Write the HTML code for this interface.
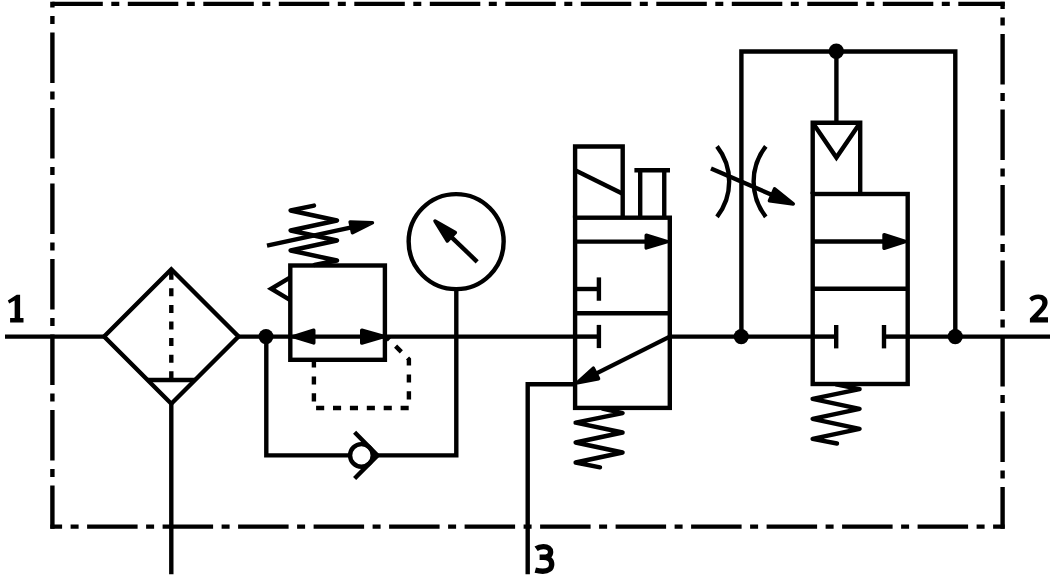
<!DOCTYPE html>
<html><head><meta charset="utf-8"><title>Pneumatic schematic</title>
<style>
html,body{margin:0;padding:0;background:#fff;}
body{width:1056px;height:587px;overflow:hidden;font-family:"Liberation Sans",sans-serif;}
svg{display:block;}
</style></head>
<body>
<svg width="1056" height="587" viewBox="0 0 1056 587">
<rect x="0" y="0" width="1056" height="587" fill="#fff"/>
<g fill="none" stroke="#000" stroke-width="4.4" stroke-linecap="butt" stroke-linejoin="miter">
<line x1="50.35" y1="3.9" x2="1004.65" y2="3.9" stroke-dasharray="50.5 8.5 8 8.5" stroke-dashoffset="73.55"/>
<line x1="50.35" y1="526.6" x2="1004.65" y2="526.6" stroke-dasharray="50.5 8.5 8 8.5" stroke-dashoffset="38.75"/>
<line x1="52.4" y1="1.85" x2="52.4" y2="528.65" stroke-dasharray="50.5 8.5 8 8.5" stroke-dashoffset="44.85"/>
<line x1="1002.6" y1="1.85" x2="1002.6" y2="528.65" stroke-dasharray="50.5 8.5 8 8.5" stroke-dashoffset="43.35"/>
<line x1="5" y1="336.6" x2="104.3" y2="336.6"/>
<line x1="238.3" y1="336.6" x2="290.3" y2="336.6"/>
<line x1="291" y1="336.6" x2="386" y2="336.6"/>
<line x1="384.9" y1="336.6" x2="575.1" y2="336.6"/>
<line x1="575.1" y1="336.6" x2="598.9" y2="336.6"/>
<line x1="669.8" y1="336.6" x2="812.7" y2="336.6"/>
<line x1="812.7" y1="336.6" x2="836.2" y2="336.6"/>
<line x1="884" y1="336.6" x2="907.7" y2="336.6"/>
<line x1="907.7" y1="336.6" x2="1050" y2="336.6"/>
<polygon points="104.10,336.50 171.30,269.30 238.50,336.50 171.30,403.70" stroke-linejoin="miter"/>
<line x1="171.3" y1="269.3" x2="171.3" y2="380" stroke-dasharray="8 8.6" stroke-dashoffset="-2.4"/>
<line x1="147.60000000000002" y1="380" x2="195.0" y2="380"/>
<line x1="171.3" y1="403.7" x2="171.3" y2="574.2"/>
<circle cx="266" cy="336.6" r="7.5" fill="#000" stroke="none"/>
<polyline points="266.30,336.60 266.30,455.40 350.00,455.40"/>
<circle cx="361.4" cy="455.4" r="11.3" fill="none"/>
<polyline points="354.60,432.30 377.50,455.40 354.60,478.50" stroke-linejoin="miter"/>
<polyline points="377.50,455.40 456.30,455.40 456.30,336.60"/>
<rect x="290.3" y="265.5" width="94.6" height="94.3" fill="none"/>
<polygon points="293.16,336.60 313.70,330.30 313.70,342.90" fill="#000" stroke="#000" stroke-width="3.6" stroke-linejoin="round"/>
<polygon points="383.84,336.60 361.80,342.90 361.80,330.30" fill="#000" stroke="#000" stroke-width="3.6" stroke-linejoin="round"/>
<polyline points="290.30,277.30 271.20,288.75 290.30,300.20" stroke-linejoin="miter"/>
<polyline points="314.00,205.60 290.60,210.50 337.00,220.50 290.60,230.50 337.00,240.50 290.60,250.50 337.00,260.50 314.50,264.90" stroke-linejoin="round" stroke-linecap="round"/>
<line x1="267" y1="245.7" x2="355" y2="226.6"/>
<polygon points="372.39,222.76 352.51,232.71 350.17,221.97" fill="#000" stroke="#000" stroke-width="3.6" stroke-linejoin="round"/>
<polyline points="386.3,336.8 408.9,359.4 408.9,408 313.9,408 313.9,359.8" stroke-dasharray="8.1 8.8" stroke-dashoffset="3.74"/>
<circle cx="456.15" cy="241.6" r="47.5" fill="none" stroke-width="4.4"/>
<line x1="456.3" y1="288.2" x2="456.3" y2="336.6"/>
<line x1="477.2" y1="261.8" x2="447" y2="232.8"/>
<polygon points="435.05,221.10 455.30,232.59 447.24,240.93" fill="#000" stroke="#000" stroke-width="3.6" stroke-linejoin="round"/>
<rect x="575.1" y="217.7" width="94.70" height="190.20" fill="none"/>
<line x1="575.1" y1="313.2" x2="669.8" y2="313.2"/>
<polyline points="575.10,217.70 575.10,146.50 622.70,146.50 622.70,217.70"/>
<line x1="575.1" y1="170.3" x2="622.7" y2="193.8"/>
<line x1="634.4" y1="170.2" x2="670" y2="170.2"/>
<line x1="640.2" y1="170.2" x2="640.2" y2="217.7"/>
<line x1="664.25" y1="170.2" x2="664.25" y2="217.7"/>
<line x1="575.1" y1="241.6" x2="650" y2="241.6"/>
<polygon points="667.34,241.60 646.30,247.90 646.30,235.30" fill="#000" stroke="#000" stroke-width="3.6" stroke-linejoin="round"/>
<line x1="575.1" y1="289" x2="598.9" y2="289"/>
<line x1="598.9" y1="277.4" x2="598.9" y2="300.75"/>
<line x1="598.9" y1="324.9" x2="598.9" y2="348.1"/>
<line x1="669.8" y1="336.6" x2="592" y2="375.6"/>
<polygon points="577.53,382.64 593.32,368.28 598.50,378.66" fill="#000" stroke="#000" stroke-width="3.6" stroke-linejoin="round"/>
<polyline points="575.10,384.20 527.70,384.20 527.70,574.20"/>
<polyline points="602.50,408.50 622.60,413.10 575.60,422.70 622.60,432.50 575.60,442.50 622.60,452.50 575.60,462.50 600.00,467.30" stroke-linejoin="round" stroke-linecap="round"/>
<rect x="812.7" y="194.0" width="95.00" height="190.00" fill="none"/>
<line x1="812.7" y1="288.8" x2="907.7" y2="288.8"/>
<polyline points="812.70,194.00 812.70,122.70 860.20,122.70 860.20,194.00"/>
<polyline points="812.70,122.70 836.40,157.60 860.20,122.70" stroke-linejoin="miter"/>
<line x1="836.4" y1="51.3" x2="836.4" y2="122.7"/>
<circle cx="836.3" cy="51.3" r="7.7" fill="#000" stroke="none"/>
<polyline points="741.40,336.60 741.40,51.50 955.30,51.50 955.30,336.60"/>
<circle cx="741.25" cy="336.6" r="7.6" fill="#000" stroke="none"/>
<circle cx="955.25" cy="336.6" r="7.6" fill="#000" stroke="none"/>
<line x1="812.7" y1="241.5" x2="890" y2="241.5"/>
<polygon points="905.14,241.50 884.10,248.20 884.10,234.80" fill="#000" stroke="#000" stroke-width="3.6" stroke-linejoin="round"/>
<line x1="836.2" y1="325" x2="836.2" y2="348.4"/>
<line x1="884" y1="325" x2="884" y2="348.4"/>
<polyline points="836.00,384.30 859.60,389.10 812.60,398.80 859.60,408.80 812.60,418.80 859.60,428.80 812.60,438.80 837.00,443.50" stroke-linejoin="round" stroke-linecap="round"/>
<path d="M717.0,146.3 A57.1,57.1 0 0 1 717.0,216.8" fill="none"/>
<path d="M765.8,146.3 A57.1,57.1 0 0 0 765.8,216.8" fill="none"/>
<line x1="711" y1="168.6" x2="778" y2="197.4"/>
<polygon points="793.22,203.95 769.48,200.82 774.62,188.88" fill="#000" stroke="#000" stroke-width="3.6" stroke-linejoin="round"/>
<path d="M16.7,294.8 L20.1,294.8 L20.1,318 L23.5,318 L23.5,322.4 L10.1,322.4 L10.1,318 L14.65,318 L14.65,300.6 L9.2,303.5 L7.8,300.4 Z" fill="#000" stroke="none"/>
<path d="M1029.2,298.2 C1031.5,295.8 1034.8,294.5 1038.4,294.5 C1044,294.5 1047.6,297.6 1047.6,302.3 C1047.6,306.3 1045.3,309.6 1040.2,314.6 L1037.9,317.2 L1048,317.2 L1048,322.4 L1029.9,322.4 L1029.9,318.4 L1037.6,310.6 C1041.2,307 1042.3,305 1042.3,302.6 C1042.3,300.2 1040.6,298.9 1038,298.9 C1035.4,298.9 1033.6,299.9 1031.9,301.6 Z" fill="#000" stroke="none"/>
<path d="M536.1,548.8 C538.3,547.2 540.8,546.6 543.4,546.6 C547.9,546.6 550.6,548.8 550.6,552 C550.6,555.4 547.8,557.3 543.5,557.3 L539.6,557.3 M543.5,557.3 C548.7,557.3 551.7,560 551.7,564.2 C551.7,568.8 548.2,571.2 542.8,571.2 C540.3,571.2 537.6,570.8 535.3,570.2" fill="none" stroke-width="5.4"/>
</g>
</svg>
</body></html>
